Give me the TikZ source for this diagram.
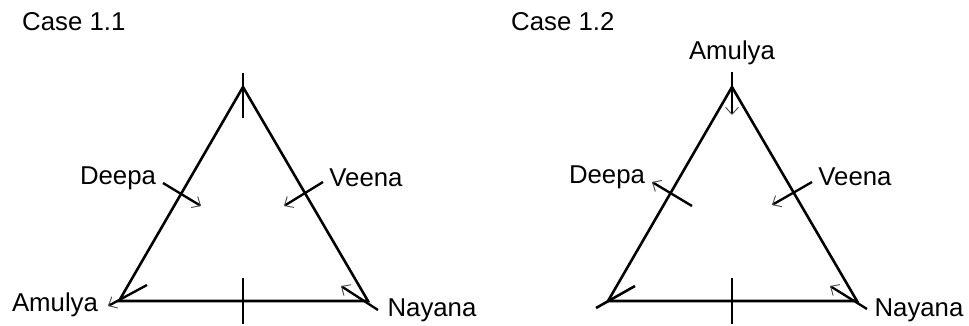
\documentclass[tikz,border=0pt]{standalone}
\usepackage{fontspec}
\setmainfont{Liberation Sans}
\usetikzlibrary{arrows.meta}

\tikzset{
	side/.style={line width=2.2pt},
	pointer/.style={line width=2pt,-{Straight Barb[line width=0.8pt,length=6pt,width=11pt,color=black!70]}},
	lbl/.style={font=\fontsize{22}{26}\selectfont,inner sep=0pt}
}

\begin{document}
\begin{tikzpicture}[x=0.03cm,y=-0.03cm]
\useasboundingbox (0,0) rectangle (969,325);
% the two triangles, same size
\foreach \s/\c in {0/L,489/R}{
	\coordinate (top\c) at (243+\s,87);
	\coordinate (bl\c) at (119+\s,301);
	\coordinate (br\c) at (368+\s,301);
	\draw[side] (top\c) -- (bl\c) -- (br\c) -- cycle;
	\coordinate (bt\c) at (243+\s,278);
	\coordinate (bb\c) at (243+\s,324);
	\draw[side] (bt\c) -- (bb\c);
	}

% Case 1.1
\node[lbl,anchor=west] (caseL) at (22,22) {Case 1.1};
\coordinate (tt) at (243,73);
\coordinate (tb) at (243,118);
\draw[side] (tt) -- (tb);
\node[lbl] (deepaL) at (118,178) {Deepa};
\coordinate (dL1) at (163,183);
\coordinate (dL2) at (201,206);
\draw[pointer] (dL1) -- (dL2);
\node[lbl] (veenaL) at (366,178) {Veena};
\coordinate (vL1) at (323,182);
\coordinate (vL2) at (284,206);
\draw[pointer] (vL1) -- (vL2);
\node[lbl] (amulyaL) at (55,305) {Amulya};
\coordinate (aL1) at (147,285);
\coordinate (aL2) at (108,306);
\draw[pointer] (aL1) -- (aL2);
\node[lbl] (nayanaL) at (432,310) {Nayana};
\coordinate (nL1) at (378,310);
\coordinate (nL2) at (341,286);
\draw[pointer] (nL1) -- (nL2);

% Case 1.2
\node[lbl,anchor=west] (caseR) at (511,22) {Case 1.2};
\node[lbl] (amulyaR) at (732,53) {Amulya};
\coordinate (aR1) at (732,72);
\coordinate (aR2) at (732,115);
\draw[pointer] (aR1) -- (aR2);
\node[lbl] (deepaR) at (607,177) {Deepa};
\coordinate (dR1) at (692,206);
\coordinate (dR2) at (652,182);
\draw[pointer] (dR1) -- (dR2);
\node[lbl] (veenaR) at (855,177) {Veena};
\coordinate (vR1) at (812,182);
\coordinate (vR2) at (772,205);
\draw[pointer] (vR1) -- (vR2);
\coordinate (cR1) at (635,286);
\coordinate (cR2) at (596,308);
\draw[side] (cR1) -- (cR2);
\node[lbl] (nayanaR) at (919,310) {Nayana};
\coordinate (nR1) at (867,309);
\coordinate (nR2) at (830,286);
\draw[pointer] (nR1) -- (nR2);

\end{tikzpicture}
\end{document}
